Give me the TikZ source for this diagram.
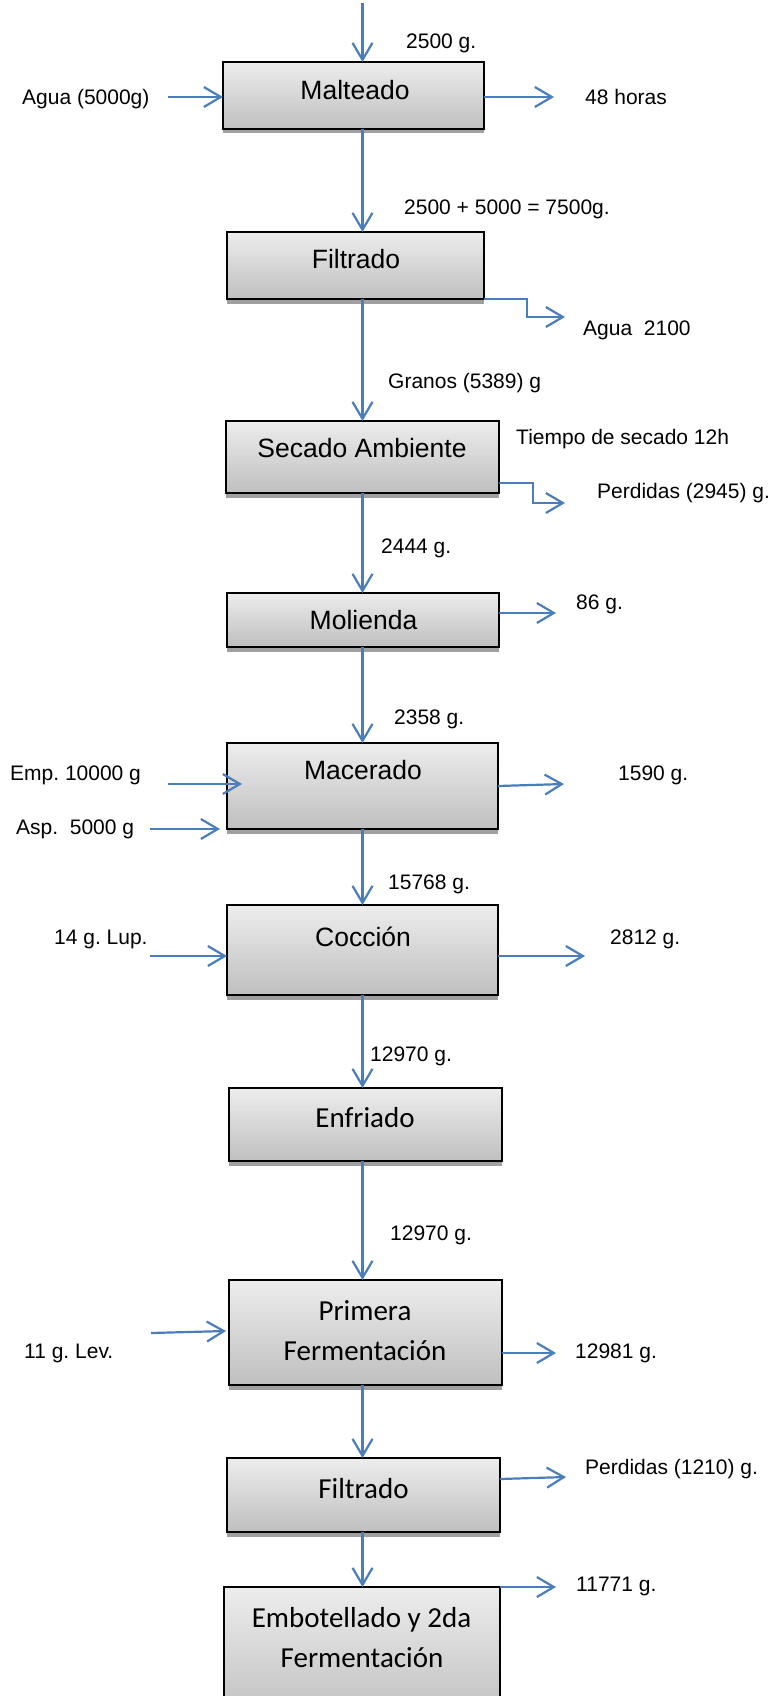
\documentclass[tikz,border=0pt]{standalone}
\usepackage{fontspec}
\setmainfont{Liberation Sans}
\newfontfamily\calfont{Carlito}
\usetikzlibrary{arrows.meta,shadows,calc}
\definecolor{flowblue}{HTML}{4A7EBB}
\definecolor{boxtop}{HTML}{EDEDED}
\definecolor{boxbot}{HTML}{BFBFBF}
\definecolor{shadowgray}{HTML}{A0A0A0}
\frenchspacing
\begin{document}
\frenchspacing
\begin{tikzpicture}[x=1pt,y=-1pt,
  procbox/.style={draw=black, line width=2pt, rectangle, inner sep=0pt, outer sep=0pt,
    top color=boxtop, bottom color=boxbot,
    drop shadow={shadow xshift=0pt, shadow yshift=-4.5pt, fill=shadowgray, opacity=1}},
  flow/.style={draw=flowblue, line width=2.2pt, -{Straight Barb[length=17pt,width=20pt]}},
  lbl/.style={font=\fontsize{21}{25}\selectfont\frenchspacing, anchor=west, inner sep=0pt, text height=15pt, text depth=0pt},
  atxt/.style={font=\fontsize{26.5}{30}\selectfont, inner sep=0pt, text height=19pt, text depth=0pt},
  ctxt/.style={font=\calfont\fontsize{29}{35}\selectfont, inner sep=0pt, text height=18.7pt, text depth=0pt},
]
\useasboundingbox (0,0) rectangle (771,1696);

% process boxes
\node[procbox, minimum width=261pt, minimum height=67pt] (malt) at (353.5,95.5) {};
\node[procbox, minimum width=257pt, minimum height=67pt] (filt1) at (355.5,265.5) {};
\node[procbox, minimum width=273pt, minimum height=72pt] (sec) at (362.5,457) {};
\node[procbox, minimum width=272pt, minimum height=54pt] (mol) at (363,620) {};
\node[procbox, minimum width=271pt, minimum height=86pt] (mac) at (362.5,786) {};
\node[procbox, minimum width=271pt, minimum height=90pt] (coc) at (362.5,950) {};
\node[procbox, minimum width=273pt, minimum height=73pt] (enf) at (365.5,1124.5) {};
\node[procbox, minimum width=273pt, minimum height=105pt] (prim) at (365.5,1332.5) {};
\node[procbox, minimum width=273pt, minimum height=74pt] (filt2) at (363.5,1495) {};
\node[procbox, minimum width=276pt, minimum height=133pt] (emb) at (362,1653.5) {};

% box texts
\node[atxt] (maltT) at (355,90) {Malteado};
\node[atxt] (filt1T) at (356,259) {Filtrado};
\node[atxt] (secT) at (362,448) {Secado Ambiente};
\node[atxt] (molT) at (363.5,620) {Molienda};
\node[atxt] (macT) at (363,770) {Macerado};
\node[atxt] (cocT) at (363,937) {Cocción};
\node[ctxt] (enfT) at (365,1118) {Enfriado};
\node[ctxt] (primT1) at (365,1311) {Primera};
\node[ctxt] (primT2) at (365,1351) {Fermentación};
\node[ctxt] (filt2T) at (363.5,1489) {Filtrado};
\node[ctxt] (embT1) at (361.5,1618) {Embotellado y 2da};
\node[ctxt] (embT2) at (362,1658) {Fermentación};

% main vertical flow
\coordinate (axis) at (362.5,0);
\coordinate (src) at (362.5,3);
\draw[flow] (src) -- (malt.north -| axis);
\draw[flow] (malt.south -| axis) -- (filt1.north -| axis);
\draw[flow] (filt1.south -| axis) -- (sec.north -| axis);
\draw[flow] (sec.south -| axis) -- (mol.north -| axis);
\draw[flow] (mol.south -| axis) -- (mac.north -| axis);
\draw[flow] (mac.south -| axis) -- (coc.north -| axis);
\draw[flow] (coc.south -| axis) -- (enf.north -| axis);
\draw[flow] (enf.south -| axis) -- (prim.north -| axis);
\draw[flow] (prim.south -| axis) -- (filt2.north -| axis);
\draw[flow] (filt2.south -| axis) -- (emb.north -| axis);

% side flows
\coordinate (aguaIn) at (168,97);
\draw[flow] (aguaIn) -- (aguaIn -| malt.west);
\coordinate (horasOut) at (554,97);
\draw[flow] (malt.east |- horasOut) -- (horasOut);

\coordinate (f1out) at (565,317);
\draw[flow] (filt1.south east) -- ++(43,0) |- (f1out);

\coordinate (secknee) at (533,483);
\coordinate (secout) at (565,503);
\draw[flow] (sec.east |- secknee) -- (secknee) |- (secout);

\coordinate (molout) at (556,613);
\draw[flow] (mol.east |- molout) -- (molout);

\coordinate (empIn) at (168,784);
\draw[flow] (empIn) -- ($(empIn -| mac.west)+(15,0)$);
\coordinate (aspIn) at (150,829);
\draw[flow] (aspIn) -- ($(aspIn -| mac.west)+(-7,0)$);
\coordinate (macOut) at (564,784);
\draw[flow] ($(mac.east |- macOut)+(0,2)$) -- (macOut);

\coordinate (lupIn) at (150,956);
\draw[flow] (lupIn) -- (lupIn -| coc.west);
\coordinate (cocOut) at (585,956);
\draw[flow] (coc.east |- cocOut) -- (cocOut);

\coordinate (levIn) at (151,1333);
\draw[flow] (levIn) -- ($(levIn -| prim.west)+(-3,-2)$);
\coordinate (primOut) at (556,1353);
\draw[flow] (prim.east |- primOut) -- (primOut);

\coordinate (f2out) at (566,1477);
\draw[flow] ($(filt2.east |- f2out)+(0,2)$) -- (f2out);

\coordinate (embout) at (556,1587);
\draw[flow] (emb.north east) -- (embout);

% labels
\node[lbl] (l1) at (406,41) {2500 g.};
\node[lbl] (l2) at (22,97) {Agua (5000g)};
\node[lbl] (l3) at (585,97) {48 horas};
\node[lbl] (l4) at (404,207) {2500 + 5000 = 7500g.};
\node[lbl] (l5) at (583,328) {Agua\ \ 2100};
\node[lbl] (l6) at (388,381) {Granos (5389) g};
\node[lbl] (l7) at (516,437) {Tiempo de secado 12h};
\node[lbl] (l8) at (597,491) {Perdidas (2945) g.};
\node[lbl] (l9) at (381,546) {2444 g.};
\node[lbl] (l10) at (576,602) {86 g.};
\node[lbl] (l11) at (394,717) {2358 g.};
\node[lbl] (l12) at (10,773) {Emp. 10000 g};
\node[lbl] (l13) at (16,827) {Asp.\ \ 5000 g};
\node[lbl] (l14) at (618,773) {1590 g.};
\node[lbl] (l15) at (388,882) {15768 g.};
\node[lbl] (l16) at (54,937) {14 g. Lup.};
\node[lbl] (l17) at (610,937) {2812 g.};
\node[lbl] (l18) at (370,1054) {12970 g.};
\node[lbl] (l19) at (390,1233) {12970 g.};
\node[lbl] (l20) at (24,1351) {11 g. Lev.};
\node[lbl] (l21) at (575,1351) {12981 g.};
\node[lbl] (l22) at (585,1467) {Perdidas (1210) g.};
\node[lbl] (l23) at (576,1584) {11771 g.};
\end{tikzpicture}
\end{document}
